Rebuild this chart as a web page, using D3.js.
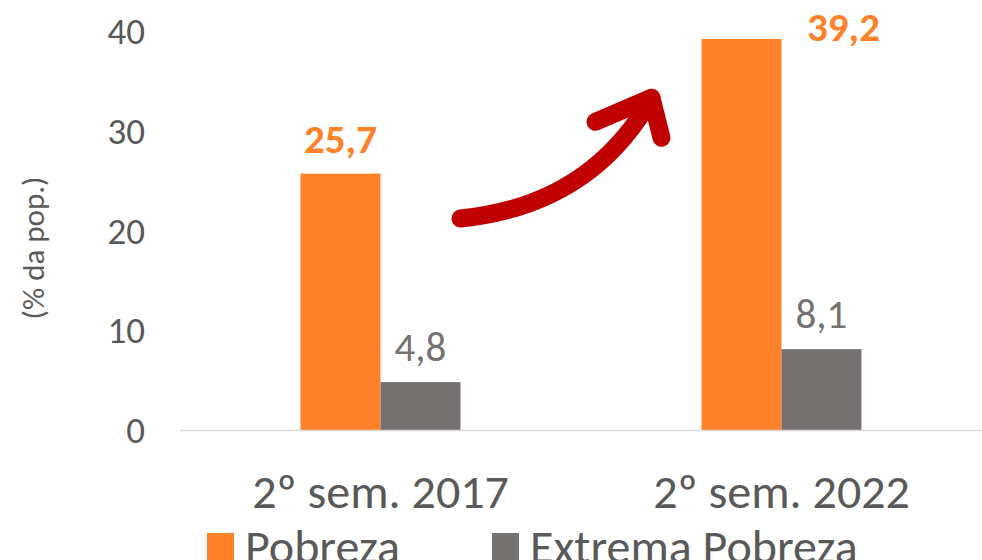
<!DOCTYPE html>
<html>
<head>
<meta charset="utf-8">
<script src="https://cdn.jsdelivr.net/npm/d3@7"></script>
<style>
  body { margin: 0; background: #fff; }
  svg { display: block; font-family: Carlito, Lato, "Open Sans", sans-serif; }
</style>
</head>
<body>
<div id="chart"></div>
<script>
// Chart data
const categories = ['2º sem. 2017', '2º sem. 2022'];
const seriesNames = ['Pobreza', 'Extrema Pobreza'];
const pobreza = [25.7, 39.2];
const extremaPobreza = [4.8, 8.1];
const yTicks = [0, 10, 20, 30, 40];

const colors = ['#fe822a', '#767171'];
const textGray = '#595959';

const width = 982;
const height = 560;

const svg = d3.select('#chart')
  .append('svg')
  .attr('width', width)
  .attr('height', height);

// Scales
const x = d3.scaleBand().domain(categories).range([180, 982]);
const xSub = d3.scaleBand()
  .domain(seriesNames)
  .range([(x.bandwidth() - 160) / 2, (x.bandwidth() + 160) / 2]);
const y = d3.scaleLinear().domain([0, 40]).range([430, 31]);

// Y axis (labels only)
svg.append('g')
  .attr('transform', 'translate(180,0)')
  .call(d3.axisLeft(y).tickValues(yTicks).tickSize(0).tickPadding(35))
  .call(g => g.select('.domain').remove())
  .selectAll('text')
  .attr('fill', textGray)
  .attr('dy', '0.34em')
  .style('font-size', '37px')
  .style('font-family', 'Carlito, Lato, sans-serif');

// Y axis title
svg.append('text')
  .attr('transform', 'translate(44,248) rotate(-90)')
  .attr('text-anchor', 'middle')
  .attr('fill', textGray)
  .style('font-size', '31px')
  .text('(% da pop.)');

// Bars
const rows = categories.map((c, i) => ({
  category: c,
  values: [
    { series: seriesNames[0], value: pobreza[i] },
    { series: seriesNames[1], value: extremaPobreza[i] }
  ]
}));

const groups = svg.selectAll('.group')
  .data(rows)
  .enter()
  .append('g')
  .attr('transform', d => `translate(${x(d.category)},0)`);

groups.selectAll('rect')
  .data(d => d.values)
  .enter()
  .append('rect')
  .attr('x', d => xSub(d.series))
  .attr('y', d => y(d.value))
  .attr('width', xSub.bandwidth())
  .attr('height', d => y(0) - y(d.value))
  .attr('fill', (d, i) => colors[i]);

// Baseline
svg.append('line')
  .attr('x1', 180).attr('x2', 982)
  .attr('y1', y(0) + 0.5).attr('y2', y(0) + 0.5)
  .attr('stroke', '#d9d9d9')
  .attr('stroke-width', 1.5);

// Value labels. The tallest one sits beside its bar, like the original.
groups.selectAll('.val')
  .data(d => d.values.map((v, i) => ({ ...v, idx: i })))
  .enter()
  .append('text')
  .attr('text-anchor', 'middle')
  .attr('x', d => {
    const cx = xSub(d.series) + xSub.bandwidth() / 2;
    return d.value > 35 ? cx + 102 : cx;
  })
  .attr('y', d => d.value > 35 ? y(d.value) + 2 : y(d.value) - 21)
  .attr('fill', d => colors[d.idx])
  .style('font-weight', d => d.idx === 0 ? 'bold' : 'normal')
  .style('font-size', '41px')
  .text(d => d3.format('.1f')(d.value).replace('.', ','));

// Category labels
svg.selectAll('.cat')
  .data(categories)
  .enter()
  .append('text')
  .attr('x', d => x(d) + x.bandwidth() / 2)
  .attr('y', 508)
  .attr('text-anchor', 'middle')
  .attr('fill', textGray)
  .style('font-size', '48px')
  .text(d => d);

// Red growth arrow, anchored to the bars via the scales
const ax0 = x(categories[0]) + xSub(seriesNames[1]) + xSub.bandwidth();
const ax1 = x(categories[1]) + xSub(seriesNames[0]) - 50;
const tail = [ax0, y(21.2)];
const ctrl = [ax0 + 130, y(22.5)];
const tip = [ax1, y(33.3)];
const arrow = svg.append('g')
  .attr('stroke', '#c00000')
  .attr('stroke-width', 18)
  .attr('stroke-linecap', 'round')
  .attr('stroke-linejoin', 'round')
  .attr('fill', 'none');
arrow.append('path')
  .attr('d', `M${tail[0]},${tail[1]} Q${ctrl[0]},${ctrl[1]} ${tip[0]},${tip[1]}`);
arrow.append('path')
  .attr('d', `M${tip[0] - 56},${tip[1] + 24} L${tip[0]},${tip[1]} L${tip[0] + 10},${tip[1] + 40}`);

// Legend
const legend = svg.append('g');
const legendX = [207, 492];
seriesNames.forEach((name, i) => {
  legend.append('rect')
    .attr('x', legendX[i])
    .attr('y', 533)
    .attr('width', 27)
    .attr('height', 27)
    .attr('fill', colors[i]);
  legend.append('text')
    .attr('x', legendX[i] + 38)
    .attr('y', 563)
    .attr('fill', textGray)
    .style('font-size', '48px')
    .text(name);
});
</script>
</body>
</html>
